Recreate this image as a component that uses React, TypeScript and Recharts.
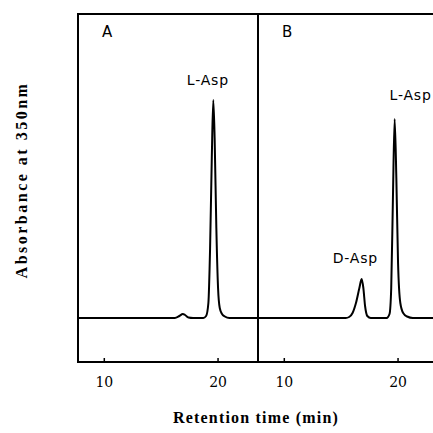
import * as React from 'react'
import { LineChart, Line, XAxis, YAxis, ReferenceDot } from 'recharts'

// chromatogram A: standard, retention time (min) vs absorbance
const TIME_A = [7.6, 12, 16.2, 16.6, 16.9, 17.1, 17.4, 17.8, 18.7, 18.95, 19.15, 19.3, 19.45, 19.58, 19.7, 19.85, 20.0, 20.15, 20.35, 20.6, 21.0, 23.6]
const ABS_A = [0, 0, 0, 0.02, 0.04, 0.03, 0.005, 0, 0, 0.02, 0.15, 0.7, 1.6, 2.18, 1.8, 0.9, 0.3, 0.1, 0.04, 0.015, 0, 0]

// chromatogram B: sample with D and L forms
const TIME_B = [7.6, 12, 15.4, 15.7, 16.0, 16.3, 16.6, 16.8, 16.95, 17.1, 17.3, 17.6, 19.0, 19.25, 19.4, 19.55, 19.7, 19.85, 20.0, 20.2, 20.45, 20.8, 21.3, 23.6]
const ABS_B = [0, 0, 0, 0.01, 0.05, 0.15, 0.3, 0.39, 0.3, 0.12, 0.02, 0, 0, 0.04, 0.3, 1.2, 1.99, 1.4, 0.55, 0.15, 0.05, 0.015, 0, 0]

const X_TICKS = [10, 20]
const X_DOMAIN = [7.6, 23.6]
const Y_DOMAIN = [-0.45, 3.05]

const PEAKS_A = [{ name: 'L-Asp', t: 19.1, y: 2.38 }]
const PEAKS_B = [
  { name: 'D-Asp', t: 16.25, y: 0.6 },
  { name: 'L-Asp', t: 21.1, y: 2.23 },
]

const toRows = (t: number[], a: number[]) => t.map((time, i) => ({ time, abs: a[i] }))

const PLOT_W = 182
const PLOT_TOP = 13
const PLOT_BOTTOM = 363
const AXIS_H = 40

function Tick(props: any) {
  const { x, y, payload } = props
  return (
    <g>
      <line x1={x} x2={x} y1={y} y2={y - 5} stroke="#000" strokeWidth={1.5} />
      <text x={x} y={y + 24} textAnchor="middle" fontFamily="DejaVu Serif, serif" fontSize={14} fill="#000">
        {payload.value}
      </text>
    </g>
  )
}

function PeakLabel(props: any) {
  const { cx, cy, text } = props
  return (
    <text x={cx} y={cy + 5} textAnchor="middle" fontFamily="DejaVu Sans, sans-serif" fontSize={14} letterSpacing={0.8} fill="#000">
      {text}
    </text>
  )
}

function Panel({ rows, peaks, left, letter }: { rows: any[]; peaks: any[]; left: number; letter: string }) {
  return (
    <div style={{ position: 'absolute', left, top: 0 }}>
      <LineChart
        width={PLOT_W}
        height={433}
        data={rows}
        margin={{ top: PLOT_TOP, left: 0, right: 0, bottom: 433 - PLOT_BOTTOM - AXIS_H }}
      >
        <XAxis
          dataKey="time"
          type="number"
          domain={X_DOMAIN}
          ticks={X_TICKS}
          allowDataOverflow
          axisLine={false}
          tickLine={false}
          tickSize={0}
          tickMargin={0}
          height={AXIS_H}
          tick={<Tick />}
          interval={0}
        />
        <YAxis hide type="number" domain={Y_DOMAIN} allowDataOverflow />
        <Line
          dataKey="abs"
          type="monotone"
          stroke="#000"
          strokeWidth={2}
          dot={false}
          isAnimationActive={false}
        />
        {peaks.map((p) => (
          <ReferenceDot
            key={p.name}
            x={p.t}
            y={p.y}
            r={0}
            ifOverflow="visible"
            shape={(s: any) => <PeakLabel {...s} text={p.name} />}
          />
        ))}
      </LineChart>
      <div
        style={{
          position: 'absolute',
          left: 0,
          top: PLOT_TOP,
          width: PLOT_W,
          height: PLOT_BOTTOM - PLOT_TOP,
          boxSizing: 'border-box',
          border: '2px solid #000',
          pointerEvents: 'none',
        }}
      />
      <div
        style={{
          position: 'absolute',
          left: 25,
          top: 24,
          fontFamily: 'DejaVu Sans, sans-serif',
          fontSize: 15,
          lineHeight: '16px',
        }}
      >
        {letter}
      </div>
    </div>
  )
}

export default function App() {
  const rowsA = React.useMemo(() => toRows(TIME_A, ABS_A), [])
  const rowsB = React.useMemo(() => toRows(TIME_B, ABS_B), [])
  return (
    <div
      style={{
        position: 'fixed',
        left: 0,
        top: 0,
        width: 433,
        height: 433,
        overflow: 'hidden',
        background: '#fff',
      }}
    >
      <Panel rows={rowsA} peaks={PEAKS_A} left={77} letter="A" />
      <Panel rows={rowsB} peaks={PEAKS_B} left={257} letter="B" />
      <div
        style={{
          position: 'absolute',
          left: 22,
          top: 180,
          transform: 'translate(-50%, -50%) rotate(-90deg)',
          whiteSpace: 'nowrap',
          fontFamily: 'Liberation Serif, serif',
          fontWeight: 'bold',
          fontSize: 16,
          letterSpacing: 2.5,
        }}
      >
        Absorbance at 350nm
      </div>
      <div
        style={{
          position: 'absolute',
          left: 256,
          top: 418,
          transform: 'translate(-50%, -50%)',
          whiteSpace: 'nowrap',
          fontFamily: 'Liberation Serif, serif',
          fontWeight: 'bold',
          fontSize: 16,
          letterSpacing: 1.2,
        }}
      >
        Retention time (min)
      </div>
    </div>
  )
}
